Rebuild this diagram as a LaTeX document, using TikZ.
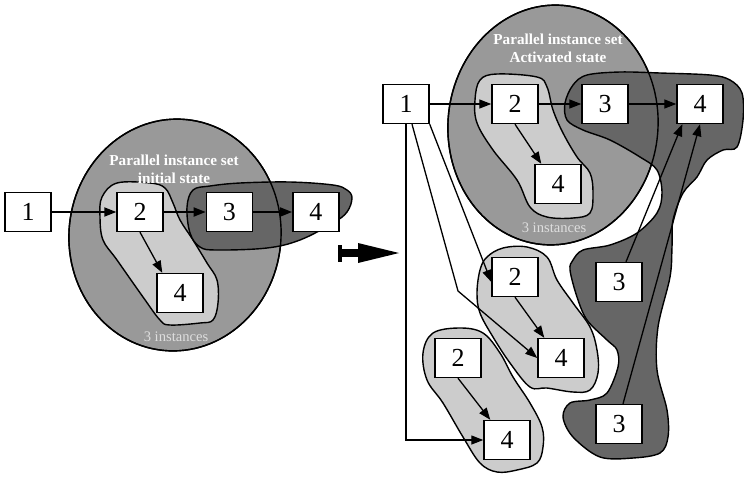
\documentclass[tikz,border=0pt]{standalone}
\usepackage{fontspec}
\setmainfont{Liberation Serif}
\usetikzlibrary{positioning, calc, arrows.meta}
\definecolor{setgray}{gray}{0.6}
\definecolor{instgray}{gray}{0.8}
\definecolor{chaingray}{gray}{0.4}
\definecolor{notegray}{gray}{0.87}
\tikzset{>={Triangle[length=6pt, width=4.5pt]}}
\tikzset{
  box/.style={draw, fill=white, line width=0.7pt, minimum width=23pt, minimum height=19.5pt, inner sep=0pt, font=\fontsize{13}{15}\selectfont},
  setring/.style={draw, line width=0.7pt, fill=setgray},
  instblob/.style={draw, line width=0.7pt, fill=instgray},
  chainblob/.style={draw, line width=0.7pt, fill=chaingray},
  settitle/.style={text=white, font=\fontsize{7.6}{8.8}\selectfont\bfseries, align=center},
  setcount/.style={text=notegray, font=\fontsize{7.3}{8}\selectfont},
  link/.style={->, line width=0.65pt},
}

\begin{document}
\begin{tikzpicture}[x=0.5pt, y=-0.5pt]
    \useasboundingbox (0,0) rectangle (744,478);

    % initial state
    \coordinate (lc) at (175,235);
    \draw[setring, rotate around={-6:(lc)}] (lc) ellipse [x radius=53pt, y radius=58pt];
    \draw[instblob] plot[smooth cycle, tension=0.6] coordinates {(117,183) (150,183) (165,188) (173,203) (180,220) (193,240) (207,263) (217,280) (218,303) (213,320) (200,323) (170,325) (160,320) (143,297) (117,260) (103,240) (100,217) (102,197)};
    \draw[chainblob] plot[smooth cycle, tension=0.6] coordinates {(187,207) (193,190) (210,186) (240,183) (290,182) (333,185) (347,190) (352,198) (347,212) (333,223) (300,240) (267,248) (217,250) (200,247) (190,233)};
    \draw[line width=0.7pt, rotate around={-6:(lc)}] (lc) ellipse [x radius=53pt, y radius=58pt];
    \node[settitle] (ltitle) at (174,169) {Parallel instance set\\initial state};
    \node[setcount] (lcount) at (176,337) {3 instances};

    \node[box] (l1) at (28,212) {1};
    \node[box] (l2) at (140,212) {2};
    \node[box, right=21pt of l2] (l3) {3};
    \node[box, right=19.5pt of l3] (l4) {4};
    \node[box] (l4b) at (180,293) {4};

    \draw[link, line width=0.9pt] (l1) -- (l2);
    \draw[link, line width=0.9pt] (l2) -- (l3);
    \draw[link, line width=0.9pt] (l3) -- (l4);
    \draw[link] (l2.south) -- ($(l4b.north west)+(6,0)$);

    % big arrow
    \fill (338,245) rectangle (342,262);
    \fill (342,249) rectangle (360,257);
    \fill (358,243) -- (399,253) -- (358,263) -- cycle;

    % activated state
    \coordinate (rc) at (553,125);
    \draw[setring, rotate around={-5:(rc)}] (rc) ellipse [x radius=52.5pt, y radius=60pt];
    \draw[instblob] plot[smooth cycle, tension=0.6] coordinates {(497,74) (537,77) (547,87) (553,110) (563,133) (577,157) (590,173) (593,193) (590,213) (573,218) (547,217) (530,207) (517,180) (493,150) (477,123) (475,100) (480,80)};
    \draw[chainblob] plot[smooth cycle, tension=0.55] coordinates {(573,85) (587,75) (620,72) (660,73) (710,75) (730,80) (742,93) (743,120) (737,147) (723,150) (707,160) (697,177) (683,193) (673,220) (672,247) (670,277) (658,327) (657,370) (667,410) (668,437) (660,453) (633,458) (600,457) (573,437) (563,417) (570,403) (590,400) (607,393) (618,367) (617,350) (607,340) (587,320) (577,297) (570,270) (573,260) (583,250) (610,245) (637,233) (657,213) (662,193) (657,170) (640,157) (610,140) (583,130) (567,120) (565,103)};
    \draw[line width=0.7pt, rotate around={-5:(rc)}] (rc) ellipse [x radius=52.5pt, y radius=60pt];
    \draw[instblob] plot[smooth cycle, tension=0.6] coordinates {(503,248) (527,247) (547,257) (557,280) (573,303) (590,327) (597,350) (598,373) (590,390) (573,392) (547,388) (530,387) (510,363) (493,337) (480,313) (477,293) (480,270) (487,257)};
    \draw[instblob] plot[smooth cycle, tension=0.6] coordinates {(460,328) (483,333) (500,353) (513,377) (530,403) (542,427) (543,447) (537,463) (517,470) (497,472) (480,463) (463,437) (443,403) (427,380) (423,353) (433,333)};
    \node[settitle] (rtitle) at (558,48) {Parallel instance set\\Activated state};
    \node[setcount] (rcount) at (554,228) {3 instances};

    \node[box] (r1) at (406,104) {1};
    \node[box] (r2) at (515,104) {2};
    \node[box] (r3) at (605,104) {3};
    \node[box] (r4) at (700,104) {4};
    \node[box] (r4c) at (558,184) {4};
    \node[box] (r2m) at (515,277) {2};
    \node[box] (r4m) at (561,358) {4};
    \node[box] (r2b) at (458,358) {2};
    \node[box] (r4b) at (507,440) {4};
    \node[box] (r3u) at (619,282) {3};
    \node[box] (r3l) at (619,424) {3};

    \draw[link] (r1) -- (r2);
    \draw[link] (r2) -- (r3);
    \draw[link] (r3) -- (r4);
    \draw[link] (r2.south) -- ($(r4c.north west)+(7,0)$);
    \draw[link] (r2b.south) -- ($(r4b.north west)+(7,0)$);
    \draw[link] (r2m.south) -- ($(r4m.north west)+(7,0)$);
    \draw[link] (r1.south east) -- ($(r2m.west)+(0,5)$);
    \coordinate (bend) at (458,291);
    \draw[link] ($(r1.south)+(6,0)$) -- (bend) -- (r4m.west);
    \draw[link] (r1.south) |- (r4b.west);
    \draw[link] ($(r3u.north)+(7,0)$) -- ($(r4.south west)+(6,0)$);
    \draw[link] ($(r3l.north)+(4,0)$) -- (r4.south);
\end{tikzpicture}
\end{document}
